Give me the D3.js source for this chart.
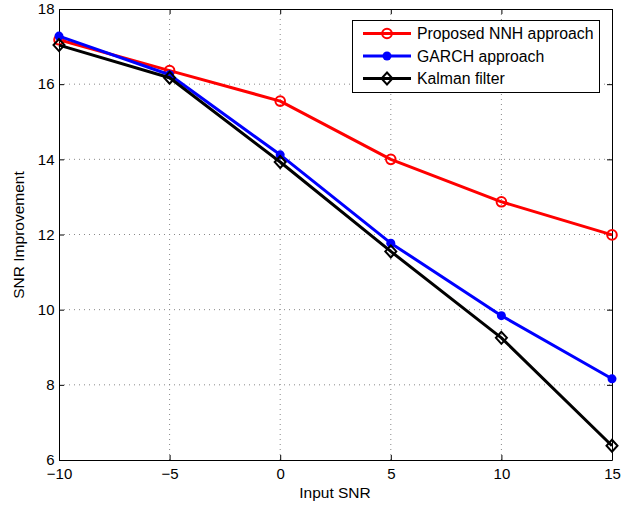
<!DOCTYPE html>
<html>
<head>
<meta charset="utf-8">
<script src="https://cdn.jsdelivr.net/npm/d3@7"></script>
<style>
  body { margin: 0; background: #fff; }
  svg { font-family: "Liberation Sans", Arial, sans-serif; }
</style>
</head>
<body>
<svg id="canvas" width="629" height="506"></svg>
<script>
// data
let inputSNR = [-10, -5, 0, 5, 10, 15];
let nnh = [17.18, 16.36, 15.55, 14.0, 12.87, 11.99];
let garch = [17.28, 16.25, 14.12, 11.77, 9.84, 8.16];
let kalman = [17.04, 16.17, 13.93, 11.55, 9.25, 6.38];
let xTicks = [-10, -5, 0, 5, 10, 15];
let yTicks = [6, 8, 10, 12, 14, 16, 18];

let series = [
  { name: 'Proposed NNH approach', values: nnh, color: '#ff0000', marker: 'circle' },
  { name: 'GARCH approach', values: garch, color: '#0000ff', marker: 'dot' },
  { name: 'Kalman filter', values: kalman, color: '#000000', marker: 'diamond' }
];

let plotL = 59, plotT = 9, plotR = 612, plotB = 460;

let svg = d3.select('#canvas');

let x = d3.scaleLinear().domain([-10, 15]).range([plotL, plotR]);
let y = d3.scaleLinear().domain([6, 18]).range([plotB, plotT]);

// grid
let grid = svg.append('g');
grid.selectAll('.gx')
  .data(xTicks.slice(1, -1))
  .enter().append('line')
  .attr('x1', d => x(d)).attr('x2', d => x(d))
  .attr('y1', plotT).attr('y2', plotB)
  .attr('stroke', '#888').attr('stroke-width', 1)
  .attr('stroke-dasharray', '1,4');
grid.selectAll('.gy')
  .data(yTicks.slice(1, -1))
  .enter().append('line')
  .attr('y1', d => y(d)).attr('y2', d => y(d))
  .attr('x1', plotL).attr('x2', plotR)
  .attr('stroke', '#888').attr('stroke-width', 1)
  .attr('stroke-dasharray', '1,4');

// axes
let xAxis = d3.axisBottom(x).tickValues(xTicks).tickSizeInner(-5).tickSizeOuter(0)
  .tickFormat(d => d < 0 ? '\u2212' + Math.abs(d) : d);
let yAxis = d3.axisLeft(y).tickValues(yTicks).tickSizeInner(-5).tickSizeOuter(0);

let gx = svg.append('g').attr('transform', `translate(0,${plotB})`).call(xAxis);
let gy = svg.append('g').attr('transform', `translate(${plotL},0)`).call(yAxis);
svg.append('g').attr('transform', `translate(0,${plotT})`)
  .call(d3.axisTop(x).tickValues(xTicks).tickSizeInner(-5).tickSizeOuter(0).tickFormat(''));
svg.append('g').attr('transform', `translate(${plotR},0)`)
  .call(d3.axisRight(y).tickValues(yTicks).tickSizeInner(-5).tickSizeOuter(0).tickFormat(''));

svg.selectAll('.domain').attr('stroke', '#000').attr('stroke-width', 1);
svg.selectAll('.tick line').attr('stroke', '#000');
gx.selectAll('text').attr('font-size', 15).attr('fill', '#000').attr('dy', '1.05em')
  .attr('font-family', '"Liberation Sans", Arial, sans-serif');
gy.selectAll('text').attr('font-size', 15).attr('fill', '#000').attr('dx', '-0.1em')
  .attr('font-family', '"Liberation Sans", Arial, sans-serif');

// axis labels
svg.append('text').attr('x', 335).attr('y', 498).attr('text-anchor', 'middle')
  .attr('font-size', 15.5).text('Input SNR');
svg.append('text').attr('transform', 'translate(24,235) rotate(-90)')
  .attr('text-anchor', 'middle').attr('font-size', 15.5).text('SNR Improvement');

// lines
let line = d3.line().x((d, i) => x(inputSNR[i])).y(d => y(d));

let drawMarker = (g, s, cx, cy) => {
  if (s.marker === 'circle') {
    g.append('circle').attr('cx', cx).attr('cy', cy).attr('r', 4.8)
      .attr('fill', 'none').attr('stroke', s.color).attr('stroke-width', 2);
  } else if (s.marker === 'dot') {
    g.append('circle').attr('cx', cx).attr('cy', cy).attr('r', 4.5)
      .attr('fill', s.color);
  } else {
    g.append('path')
      .attr('d', `M${cx},${cy - 6}L${cx + 5.5},${cy}L${cx},${cy + 6}L${cx - 5.5},${cy}Z`)
      .attr('fill', 'none').attr('stroke', s.color).attr('stroke-width', 2);
  }
};

series.forEach(s => {
  svg.append('path').datum(s.values)
    .attr('d', line)
    .attr('fill', 'none')
    .attr('stroke', s.color)
    .attr('stroke-width', 3)
    .attr('stroke-linejoin', 'round');
  let g = svg.append('g');
  s.values.forEach((v, i) => drawMarker(g, s, x(inputSNR[i]), y(v)));
});

// legend
let legend = svg.append('g');
legend.append('rect').attr('x', 352.5).attr('y', 20.5).attr('width', 247).attr('height', 72)
  .attr('fill', '#fff').attr('stroke', '#000').attr('stroke-width', 1);
series.forEach((s, i) => {
  let ly = 33.5 + i * 22.5;
  legend.append('line').attr('x1', 363).attr('x2', 411).attr('y1', ly).attr('y2', ly)
    .attr('stroke', s.color).attr('stroke-width', 3);
  drawMarker(legend, s, 387, ly);
  legend.append('text').attr('x', 417).attr('y', ly + 5.5).attr('font-size', 15.8)
    .attr('fill', '#000').text(s.name);
});
</script>
</body>
</html>
